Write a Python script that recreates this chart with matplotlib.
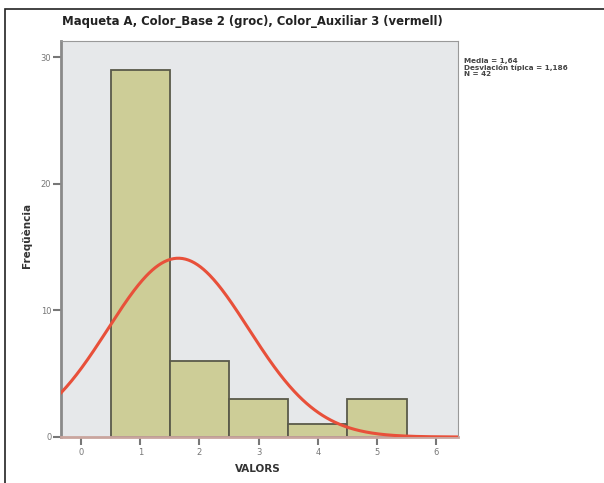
import numpy as np
import matplotlib

matplotlib.use("Agg")
import matplotlib.pyplot as plt
from matplotlib.patches import Rectangle

# Histogram data
values = [1, 2, 3, 4, 5]
counts = [29, 6, 3, 1, 3]
x_ticks = [0, 1, 2, 3, 4, 5, 6]
y_ticks = [0, 10, 20, 30]

title = "Maqueta A, Color_Base 2 (groc), Color_Auxiliar 3 (vermell)"
stats_text = "Media = 1,64\nDesviación típica = 1,186\nN = 42"

# Normal curve fitted to the histogram (SPSS style), scaled to counts
data = np.repeat(values, counts)
n = len(data)
mean = data.mean()
sd = data.std(ddof=1)

W, H = 604, 483
fig = plt.figure(figsize=(W / 100, H / 100), dpi=100)
fig.patch.set_facecolor("white")

# outer frame (only top and left visible in the crop)
fig.add_artist(
    Rectangle((5 / W, -0.05), 1.2, (H - 9) / H + 0.05, transform=fig.transFigure,
              fill=False, edgecolor="#222222", linewidth=1.2)
)

left, right, top, bottom = 61, 458, 41, 437
ax = fig.add_axes([left / W, 1 - bottom / H, (right - left) / W, (bottom - top) / H])
ax.set_facecolor("#e6e8ea")

ax.bar(values, counts, width=1.0, color="#cdcd97", edgecolor="#5a5a4a", linewidth=1.3, zorder=2)

xs = np.linspace(-0.4, 6.4, 400)
pdf = n * np.exp(-0.5 * ((xs - mean) / sd) ** 2) / (sd * np.sqrt(2 * np.pi))
ax.plot(xs, pdf, color="#e8503a", linewidth=2.2, zorder=3)

ax.set_xlim(-0.34, 6.37)
ax.set_ylim(0, 31.3)
ax.set_xticks(x_ticks)
ax.set_yticks(y_ticks)
ax.tick_params(axis="both", labelsize=6, colors="#777777", length=6, width=1.5, direction="out")
ax.tick_params(axis="x", labelcolor="#777777", length=6, pad=2)
ax.tick_params(axis="y", labelcolor="#777777", pad=1)

for side in ("left", "bottom"):
    ax.spines[side].set_color("#8a8a8a")
    ax.spines[side].set_linewidth(2)
ax.spines["top"].set_color("#999999")
ax.spines["right"].set_color("#999999")
ax.spines["bottom"].set_color("#c9a59e")

fig.text(258 / W, 1 - 469 / H, "VALORS", fontsize=7.5, fontweight="bold", color="#333333",
         ha="center", va="center")
fig.text(27 / W, 1 - 235 / H, "Freqüència", fontsize=7.5, fontweight="bold", color="#333333",
         ha="center", va="center", rotation=90)

fig.text(62 / W, 1 - 21 / H, title, fontsize=8.4, fontweight="bold", color="#222222",
         va="center", ha="left")
fig.text(464 / W, 1 - 58 / H, stats_text, fontsize=5.2, color="#444444", fontweight="bold",
         va="top", ha="left", linespacing=1.0)

fig.savefig("out.png", dpi=100)
